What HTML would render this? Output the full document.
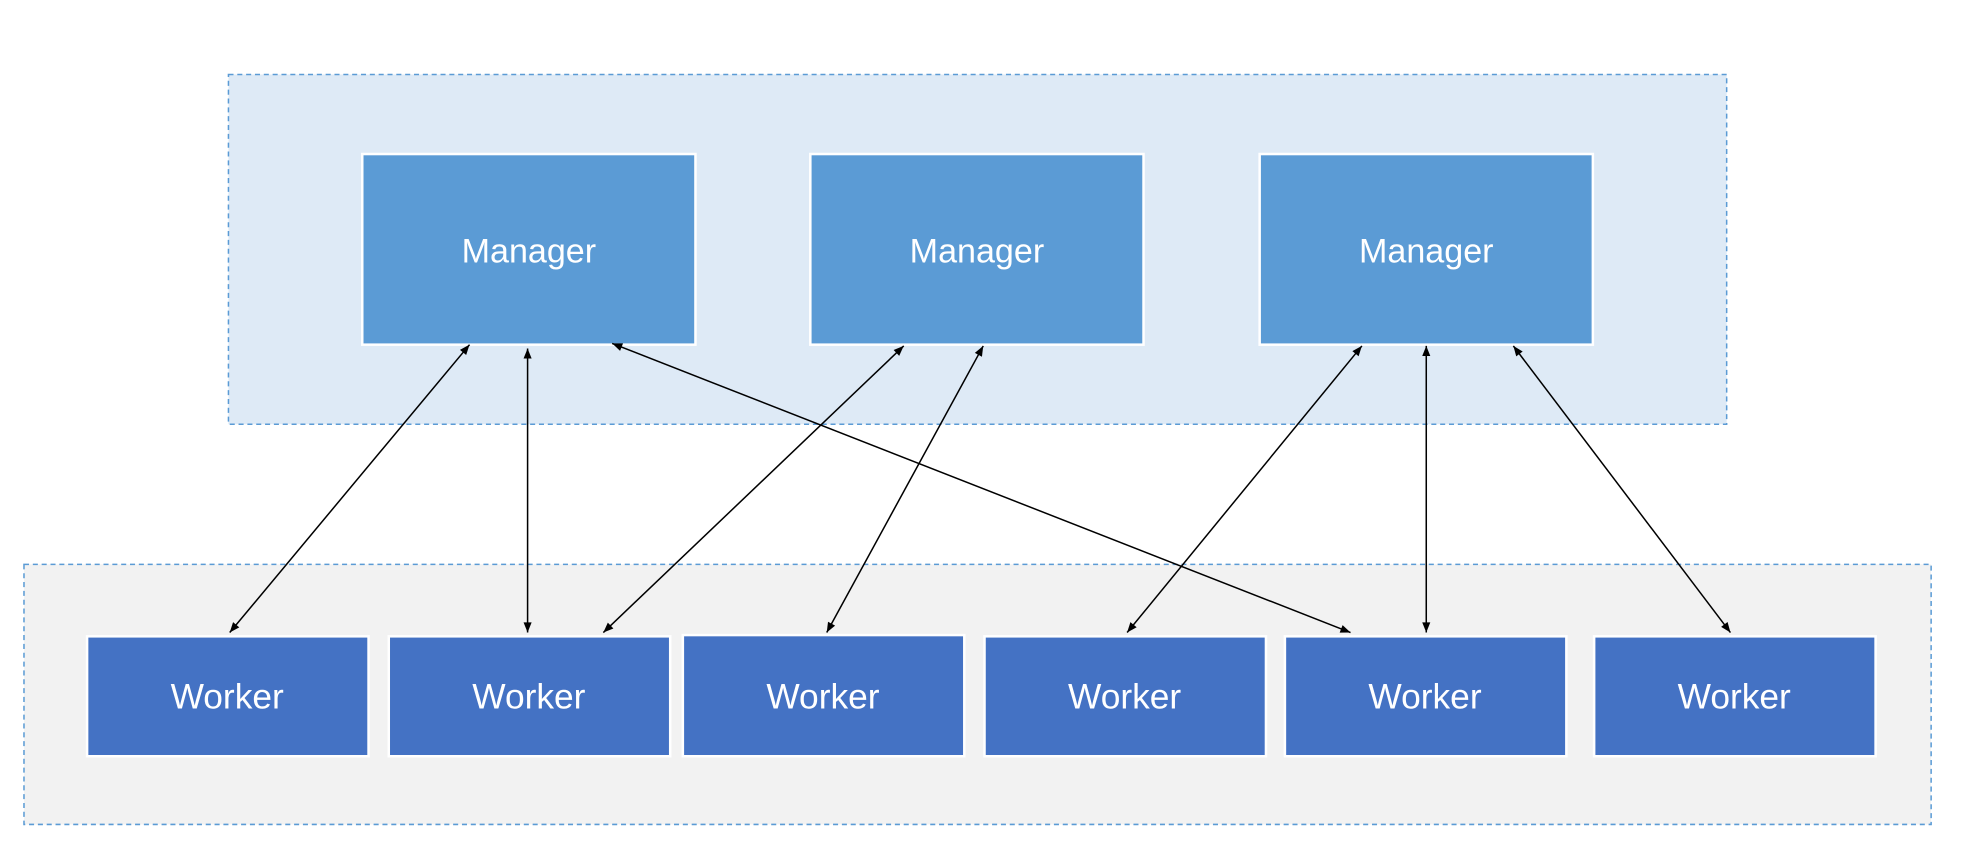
<!DOCTYPE html>
<html><head><meta charset="utf-8"><style>html,body{margin:0;padding:0;background:#fff}svg{display:block}</style></head>
<body>
<svg width="1969" height="856" viewBox="0 0 1560 678" preserveAspectRatio="none" xmlns="http://www.w3.org/2000/svg">
<defs>
<marker id="a" viewBox="0 0 10 10" refX="10" refY="5" markerWidth="9" markerHeight="8" orient="auto-start-reverse" markerUnits="userSpaceOnUse"><path d="M0,1 L10,5 L0,9 z" fill="#000"/></marker>
</defs>
<rect x="181" y="59" width="1187" height="277" fill="#deeaf6" stroke="#5b9bd5" stroke-width="1.2" stroke-dasharray="4,3"/>
<rect x="19" y="447" width="1511" height="206" fill="#f2f2f2" stroke="#5b9bd5" stroke-width="1.2" stroke-dasharray="4,3"/>
<g fill="#5b9bd5" stroke="#fff" stroke-width="2">
<rect x="287" y="122" width="264" height="151"/>
<rect x="642" y="122" width="264" height="151"/>
<rect x="998" y="122" width="264" height="151"/>
</g>
<g fill="#4472c4" stroke="#fff" stroke-width="2">
<rect x="69" y="504" width="223" height="95"/>
<rect x="308" y="504" width="223" height="95"/>
<rect x="541" y="503" width="223" height="96"/>
<rect x="780" y="504" width="223" height="95"/>
<rect x="1018" y="504" width="223" height="95"/>
<rect x="1263" y="504" width="223" height="95"/>
</g>
<g font-family="Liberation Sans, sans-serif" font-size="28" fill="#fff" text-anchor="middle">
<text x="419" y="208" font-size="27">Manager</text>
<text x="774" y="208" font-size="27">Manager</text>
<text x="1130" y="208" font-size="27">Manager</text>
<text x="180" y="561">Worker</text>
<text x="419" y="561">Worker</text>
<text x="652" y="561">Worker</text>
<text x="891" y="561">Worker</text>
<text x="1129" y="561">Worker</text>
<text x="1374" y="561">Worker</text>
</g>
<g stroke="#000" stroke-width="1.2" marker-start="url(#a)" marker-end="url(#a)">
<line x1="372" y1="273" x2="182" y2="501"/>
<line x1="418" y1="276" x2="418" y2="501"/>
<line x1="485" y1="272" x2="1070" y2="501"/>
<line x1="716" y1="274" x2="478" y2="501"/>
<line x1="779" y1="274" x2="655" y2="501"/>
<line x1="1079" y1="274" x2="893" y2="501"/>
<line x1="1130" y1="274" x2="1130" y2="501"/>
<line x1="1199" y1="274" x2="1371" y2="501"/>
</g>
</svg>
</body></html>
